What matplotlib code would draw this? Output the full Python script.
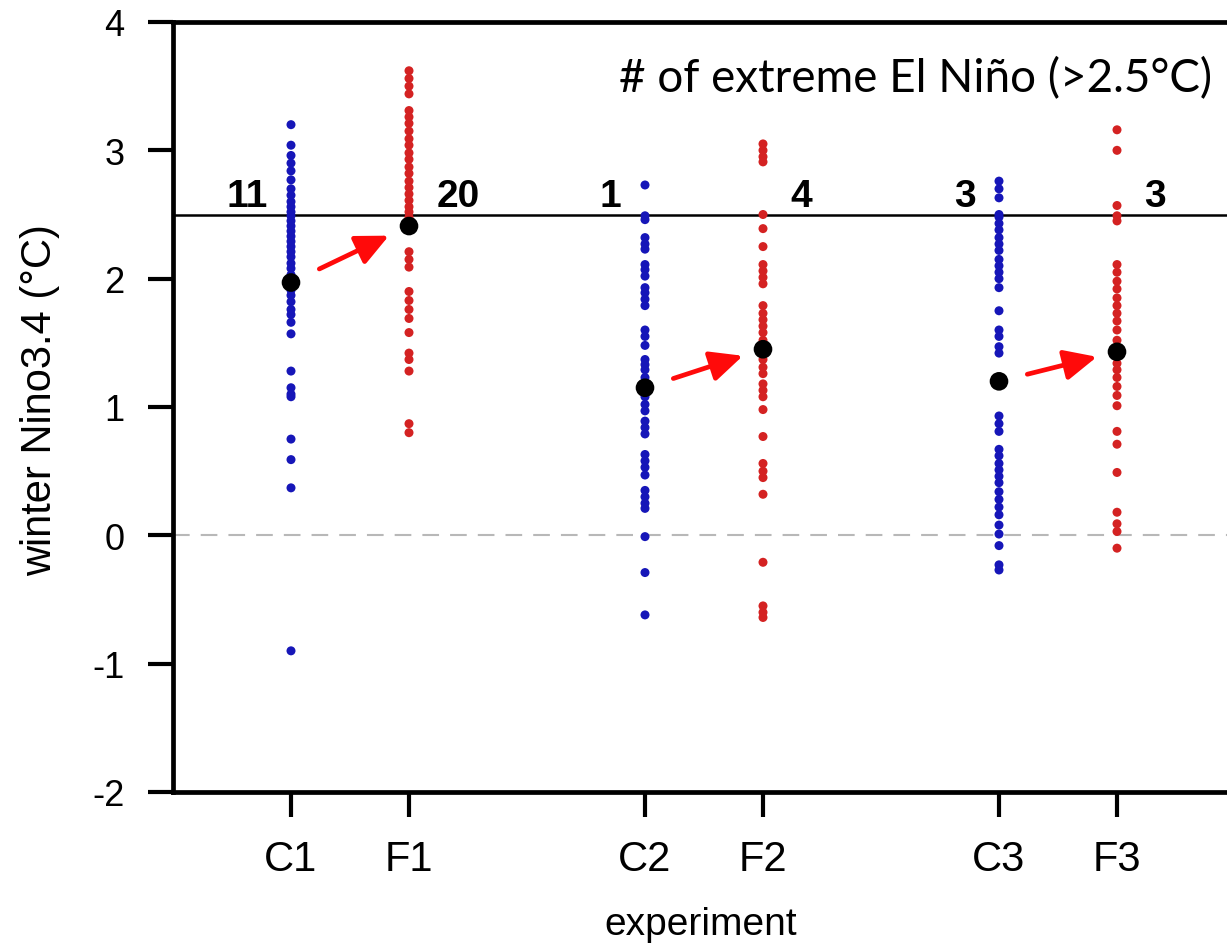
import matplotlib
matplotlib.use("Agg")
import matplotlib.pyplot as plt

# ---------------- data ----------------
experiments = ["C1", "F1", "C2", "F2", "C3", "F3"]
positions = [1, 2, 4, 5, 7, 8]

c1 = [3.20, 3.04, 2.96, 2.90, 2.84, 2.77, 2.70, 2.65, 2.60, 2.56, 2.52, 2.49, 2.45,
      2.41, 2.37, 2.33, 2.29, 2.25, 2.21, 2.17, 2.12, 2.08, 2.03, 1.99, 1.95, 1.91,
      1.87, 1.82, 1.76, 1.72, 1.66, 1.57, 1.28, 1.15, 1.10, 1.08, 0.75, 0.59, 0.37, -0.90]
f1 = [3.62, 3.56, 3.50, 3.44, 3.31, 3.26, 3.21, 3.15, 3.09, 3.04, 2.98, 2.93, 2.87,
      2.82, 2.76, 2.71, 2.66, 2.61, 2.56, 2.52, 2.48, 2.21, 2.15, 2.09, 1.90, 1.83,
      1.76, 1.69, 1.58, 1.42, 1.37, 1.28, 0.87, 0.80]
c2 = [2.73, 2.49, 2.46, 2.32, 2.27, 2.23, 2.11, 2.07, 2.02, 1.93, 1.89, 1.84, 1.79,
      1.60, 1.55, 1.48, 1.37, 1.33, 1.29, 1.23, 1.18, 1.08, 1.02, 0.97, 0.89, 0.84,
      0.79, 0.63, 0.58, 0.53, 0.47, 0.35, 0.30, 0.25, 0.21, -0.01, -0.29, -0.62]
f2 = [3.05, 3.00, 2.95, 2.91, 2.50, 2.39, 2.25, 2.11, 2.06, 2.01, 1.96, 1.79, 1.73,
      1.68, 1.63, 1.58, 1.52, 1.48, 1.41, 1.37, 1.31, 1.26, 1.18, 1.13, 1.08, 0.98,
      0.77, 0.56, 0.50, 0.45, 0.32, -0.21, -0.55, -0.60, -0.64]
c3 = [2.76, 2.70, 2.63, 2.50, 2.48, 2.43, 2.38, 2.32, 2.27, 2.22, 2.15, 2.10, 2.05,
      2.00, 1.93, 1.75, 1.60, 1.55, 1.47, 1.42, 1.18, 0.93, 0.87, 0.81, 0.67, 0.62,
      0.56, 0.51, 0.46, 0.41, 0.34, 0.28, 0.22, 0.16, 0.08, 0.01, -0.08, -0.23, -0.27]
f3 = [3.16, 3.00, 2.57, 2.49, 2.45, 2.11, 2.05, 1.98, 1.92, 1.85, 1.79, 1.73, 1.67,
      1.60, 1.52, 1.47, 1.34, 1.29, 1.23, 1.16, 1.09, 1.01, 0.81, 0.71, 0.49, 0.18,
      0.09, 0.03, -0.10]

means = [1.97, 2.41, 1.15, 1.45, 1.20, 1.43]
extreme_counts = [11, 20, 1, 4, 3, 3]
threshold = 2.5

series = [c1, f1, c2, f2, c3, f3]
colors = ["#1616b8", "#d42222", "#1616b8", "#d42222", "#1616b8", "#d42222"]

# ---------------- figure ----------------
fig = plt.figure(figsize=(12.27, 9.45), dpi=100)
ax = fig.add_axes([173 / 1227, 152 / 945, (1235 - 173) / 1227, 770 / 945])
ax.set_xlim(0, 9)
ax.set_ylim(-2, 4)

ax.axhline(threshold, color="black", lw=1.8, zorder=1)
ax.axhline(0, color="#b8b8b8", lw=1.5, dashes=(8, 5.3), zorder=1)

for x, vals, col in zip(positions, series, colors):
    ax.scatter([x] * len(vals), vals, s=42, color=col, edgecolors="none", zorder=3)

ax.scatter(positions, means, s=180, color="black", edgecolors="none", zorder=4)

# arrows C -> F
for i in range(0, 6, 2):
    x0, y0 = positions[i], means[i]
    x1, y1 = positions[i + 1], means[i + 1]
    ta, tb = 0.24, 0.83
    ax.annotate("", xy=(x0 + tb * (x1 - x0), y0 + tb * (y1 - y0)),
                xytext=(x0 + ta * (x1 - x0), y0 + ta * (y1 - y0)),
                arrowprops=dict(arrowstyle="-|>,head_length=0.9,head_width=0.42",
                                color="#ff0a0a", lw=3.4, mutation_scale=22,
                                shrinkA=0, shrinkB=0), zorder=5)

# counts
for i, (x, n) in enumerate(zip(positions, extreme_counts)):
    if i % 2 == 0:
        ax.text(x - 0.2, 2.565, str(n), ha="right", va="baseline", fontsize=28,
                fontweight="bold", family="Liberation Sans")
    else:
        ax.text(x + 0.23, 2.565, str(n), ha="left", va="baseline", fontsize=28,
                fontweight="bold", family="Liberation Sans")

# spines / ticks
for side in ["left", "bottom", "top"]:
    ax.spines[side].set_linewidth(3.4)
ax.spines["right"].set_visible(False)
ax.set_yticks([-2, -1, 0, 1, 2, 3, 4])
ax.set_yticklabels(["-2", "-1", "0", "1", "2", "3", "4"], family="Liberation Sans", fontsize=26)
ax.set_xticks(positions)
ax.set_xticklabels(experiments, family=["Liberation Sans Narrow", "Liberation Sans"], fontsize=30)
ax.tick_params(axis="y", direction="out", length=18, width=3, pad=17)
ax.tick_params(axis="x", direction="out", length=18, width=3, pad=16)
ax.tick_params(top=False, right=False)

fig.text(40 / 1227, 1 - 400 / 945, "winter Nino3.4 (\u00b0C)", rotation=90,
         ha="center", va="center", fontsize=30, family="Liberation Sans")
fig.text(701 / 1227, 1 - 925 / 945, "experiment", ha="center", va="center",
         fontsize=28, family="Liberation Sans")
fig.text(1212 / 1227, 1 - 92 / 945, "# of extreme El Ni\u00f1o (>2.5\u00b0C)",
         ha="right", va="baseline", fontsize=33, family="Lato")

fig.savefig("out.png", dpi=100)
